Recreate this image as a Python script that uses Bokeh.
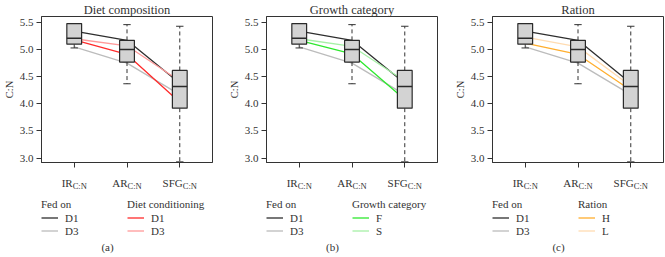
from bokeh.plotting import figure
from bokeh.layouts import row, column
from bokeh.models import (Range1d, FixedTicker, PrintfTickFormatter, Label,
                          Legend, LegendItem)
from bokeh.embed import file_html
from bokeh.resources import INLINE

# ---- data -------------------------------------------------------------
categories = ["IR", "AR", "SFG"]
subscript = "C:N"
cat_pos = [1, 2, 3]

# box-plot summaries of C:N per category
whisker_low = [5.03, 4.37, 2.93]
q1 = [5.10, 4.77, 3.92]
median = [5.21, 5.00, 4.32]
q3 = [5.48, 5.17, 4.615]
whisker_high = [5.48, 5.46, 5.43]

# mean profiles by the diet the animals were fed on
fed_on_names = ["D1", "D3"]
fed_on_d1 = [5.34, 5.17, 4.38]
fed_on_d3 = [5.05, 4.75, 4.17]

# diet conditioning
diet_names = ["D1", "D3"]
diet_d1 = [5.18, 4.91, 4.03]
diet_d3 = [5.20, 5.07, 4.42]

# growth category
growth_names = ["F", "S"]
growth_f = [5.17, 4.92, 4.08]
growth_s = [5.20, 5.06, 4.42]

# ration
ration_names = ["H", "L"]
ration_h = [5.12, 4.91, 4.25]
ration_l = [5.23, 5.05, 4.33]

y_ticks = [3.0, 3.5, 4.0, 4.5, 5.0, 5.5]

# ---- styling ----------------------------------------------------------
SERIF = "Liberation Serif"
INK = "#333333"
FED_COLORS = ["#2e2e2e", "#bcbcbc"]

X0, X1 = 0.38, 3.62
Y0, Y1 = 2.918, 5.61
FRAME_TOP, FRAME_BOTTOM = 15, 162
TOTAL_H = 257
MAIN_H = 168
BOX_HALF = 0.14
CAP_HALF = 0.07


def ydata(py):
    """Canvas pixel row -> data y on the shared C:N scale."""
    return Y1 - (py - FRAME_TOP) / (FRAME_BOTTOM - FRAME_TOP) * (Y1 - Y0)


def char_w(s, size):
    widths = {"I": 0.333, "R": 0.667, "A": 0.722, "S": 0.556, "F": 0.556,
              "G": 0.722, "C": 0.667, ":": 0.278, "N": 0.722}
    return sum(widths.get(c, 0.5) for c in s) * size


def base_fig(width, height, left, right, top, bottom, y_range):
    f = figure(width=width, height=height, x_range=Range1d(X0, X1),
               y_range=y_range, output_backend="svg", toolbar_location=None,
               min_border_left=left, min_border_right=right,
               min_border_top=top, min_border_bottom=bottom)
    f.grid.visible = False
    f.background_fill_color = "white"
    f.border_fill_color = "white"
    return f


def make_panel(title, caption, group_title, group_names, group_series,
               group_colors, width, left, right):
    p = base_fig(width, MAIN_H, left, right, FRAME_TOP, MAIN_H - FRAME_BOTTOM,
                 Range1d(Y0, Y1))
    p.outline_line_color = INK
    p.outline_line_width = 1
    p.title.text = title
    p.title.align = "center"
    p.title.text_font = SERIF
    p.title.text_font_size = "12.5px"
    p.title.text_font_style = "normal"
    p.title.text_color = INK
    p.title.standoff = 0
    p.title.offset = 0

    # y axis
    yax = p.yaxis[0]
    yax.ticker = FixedTicker(ticks=y_ticks)
    yax.formatter = PrintfTickFormatter(format="%.1f")
    yax.major_label_text_font = SERIF
    yax.major_label_text_font_size = "11px"
    yax.major_label_text_color = INK
    yax.major_tick_out = 5
    yax.major_tick_in = 0
    yax.minor_tick_line_color = None
    yax.axis_line_color = INK
    yax.major_tick_line_color = INK
    yax.major_label_standoff = 3
    yax.axis_label = "C:N"
    yax.axis_label_text_font = SERIF
    yax.axis_label_text_font_size = "10.5px"
    yax.axis_label_text_font_style = "normal"
    yax.axis_label_text_color = INK
    yax.axis_label_standoff = 2

    # x axis: ticks only; the subscripted names are set underneath
    xax = p.xaxis[0]
    xax.ticker = FixedTicker(ticks=cat_pos)
    xax.major_label_overrides = {c: "" for c in cat_pos}
    xax.major_label_standoff = 0
    xax.major_tick_out = 5
    xax.major_tick_in = 0
    xax.minor_tick_line_color = None
    xax.axis_line_color = INK
    xax.major_tick_line_color = INK

    # profile lines (under the boxes)
    for vals, col in zip([fed_on_d1, fed_on_d3], FED_COLORS):
        p.line(cat_pos, vals, line_color=col, line_width=1.3)
    for vals, col in zip(group_series, group_colors):
        p.line(cat_pos, vals, line_color=col, line_width=1.3)

    # whiskers
    p.segment(x0=cat_pos, y0=q3, x1=cat_pos, y1=whisker_high,
              line_color=INK, line_width=1, line_dash="4 3")
    p.segment(x0=cat_pos, y0=q1, x1=cat_pos, y1=whisker_low,
              line_color=INK, line_width=1, line_dash="4 3")
    p.segment(x0=[c - CAP_HALF for c in cat_pos], y0=whisker_high,
              x1=[c + CAP_HALF for c in cat_pos], y1=whisker_high,
              line_color=INK, line_width=1)
    p.segment(x0=[c - CAP_HALF for c in cat_pos], y0=whisker_low,
              x1=[c + CAP_HALF for c in cat_pos], y1=whisker_low,
              line_color=INK, line_width=1)

    # boxes and medians
    p.vbar(x=cat_pos, width=2 * BOX_HALF, bottom=q1, top=q3,
           fill_color="#d3d3d3", line_color="#2a2a2a", line_width=1.2)
    p.segment(x0=[c - BOX_HALF for c in cat_pos], y0=median,
              x1=[c + BOX_HALF for c in cat_pos], y1=median,
              line_color="#2a2a2a", line_width=1.5)

    # ---- strip underneath: category names, legends, caption ----------
    b = base_fig(width, TOTAL_H - MAIN_H, left, right, 0, 0,
                 Range1d(ydata(TOTAL_H), ydata(MAIN_H)))
    b.outline_line_color = None
    b.axis.visible = False

    main_size, sub_size = 11, 8.5
    for c, name in zip(cat_pos, categories):
        mw = char_w(name, main_size)
        sw = char_w(subscript, sub_size)
        off = -(mw + sw) / 2 + mw
        b.add_layout(Label(x=c, y=ydata(182), x_offset=off, text=name,
                           text_align="right", text_baseline="alphabetic",
                           text_font=SERIF, text_font_size=f"{main_size}px",
                           text_color=INK))
        b.add_layout(Label(x=c, y=ydata(185.5), x_offset=off, text=subscript,
                           text_align="left", text_baseline="alphabetic",
                           text_font=SERIF, text_font_size=f"{sub_size}px",
                           text_color=INK))

    b.add_layout(Label(x=X0, y=ydata(246), x_offset=66, text=caption,
                       text_align="center", text_baseline="middle",
                       text_font=SERIF, text_font_size="11px",
                       text_color=INK))

    # legend keys: same series, which sit above this strip's visible range
    fed_r = [b.line(cat_pos, vals, line_color=col, line_width=1.3)
             for vals, col in zip([fed_on_d1, fed_on_d3], FED_COLORS)]
    grp_r = [b.line(cat_pos, vals, line_color=col, line_width=1.3)
             for vals, col in zip(group_series, group_colors)]

    def legend(items, title_text, x):
        lg = Legend(items=items, title=title_text, location=(x, 20),
                    orientation="vertical")
        lg.background_fill_alpha = 0
        lg.border_line_alpha = 0
        lg.padding = 0
        lg.margin = 0
        lg.spacing = 0
        lg.label_height = 13
        lg.glyph_height = 13
        lg.glyph_width = 17
        lg.label_standoff = 7
        lg.title_standoff = 1
        lg.label_text_font = SERIF
        lg.label_text_font_size = "11px"
        lg.label_text_color = INK
        lg.title_text_font = SERIF
        lg.title_text_font_size = "11px"
        lg.title_text_font_style = "normal"
        lg.title_text_color = INK
        b.add_layout(lg)

    legend([LegendItem(label=n, renderers=[r])
            for n, r in zip(fed_on_names, fed_r)], "Fed on", 0)
    legend([LegendItem(label=n, renderers=[r])
            for n, r in zip(group_names, grp_r)], group_title, 86)

    return column(p, b, spacing=0)


pa = make_panel("Diet composition", "(a)", "Diet conditioning", diet_names,
                [diet_d1, diet_d3], ["#ff2b2b", "#ff9a9a"], 222, 41, 10)
pb = make_panel("Growth category", "(b)", "Growth category", growth_names,
                [growth_f, growth_s], ["#2ee82e", "#a6f0a6"], 222, 44, 7)
pc = make_panel("Ration", "(c)", "Ration", ration_names,
                [ration_h, ration_l], ["#ffae2e", "#ffdcb2"], 221, 48, 2)

layout = row(pa, pb, pc, spacing=0)
open("out.html", "w").write(file_html(layout, INLINE))
